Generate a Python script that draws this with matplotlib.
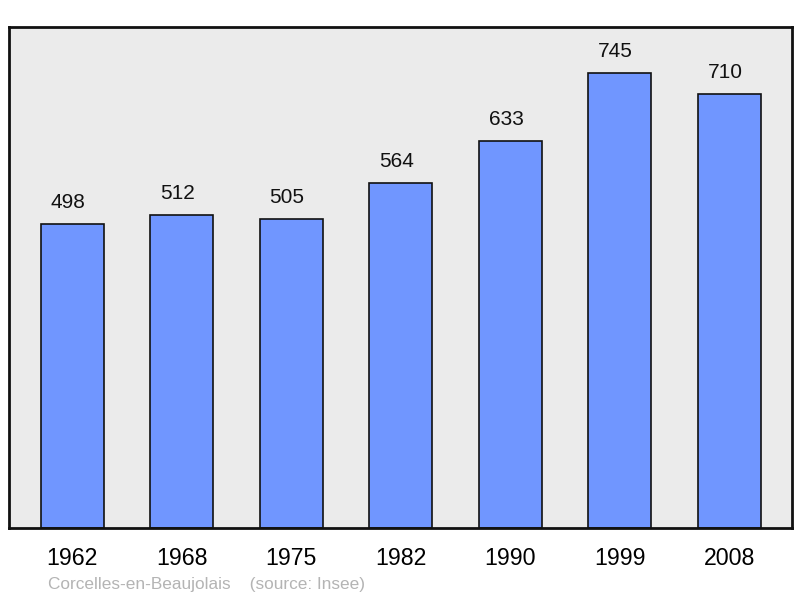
import matplotlib

matplotlib.use("Agg")

import matplotlib.pyplot as plt

years = ["1962", "1968", "1975", "1982", "1990", "1999", "2008"]
population = [498, 512, 505, 564, 633, 745, 710]

plt.rcParams["font.family"] = ["Liberation Sans", "DejaVu Sans"]

fig = plt.figure(figsize=(8, 5.98), dpi=100)
ax = fig.add_axes([9 / 800, 70 / 598, 783 / 800, 501 / 598])
ax.set_facecolor("#ebebeb")

positions = range(len(years))
bars = ax.bar(positions, population, width=0.575, color="#7096ff",
              edgecolor="#111111", linewidth=1.2, zorder=2)
# value labels sit a touch left of the bar centre in the original
for x, value in zip(positions, population):
    ax.annotate(str(value), (x, value), xytext=(-3, 15.5), textcoords="offset points",
                ha="center", va="center", fontsize=15, color="#111111")

ax.set_xlim(-0.575, 6.57)
ax.set_ylim(0, 820)
ax.set_xticks(list(positions))
ax.set_xticklabels(years, fontsize=16.7)
ax.set_yticks([])
ax.tick_params(axis="x", length=0, pad=14)
for spine in ax.spines.values():
    spine.set_linewidth(2)
    spine.set_color("#111111")

fig.text(48 / 800, 1 - 584 / 598, "Corcelles-en-Beaujolais    (source: Insee)",
         fontsize=12.4, color="#b4b4b4", va="center")

fig.savefig("out.png", dpi=100)
